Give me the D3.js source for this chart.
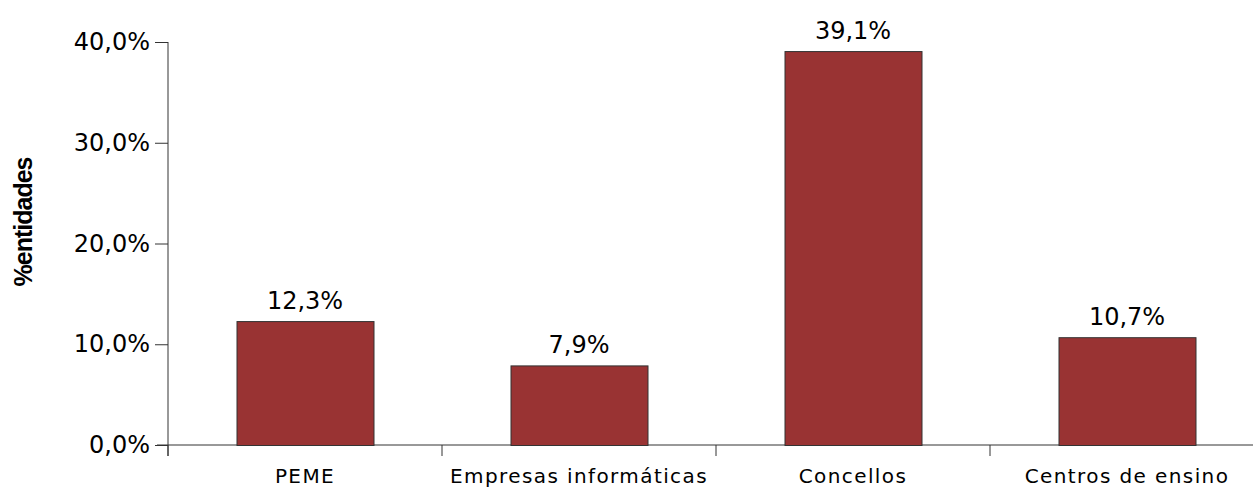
<!DOCTYPE html>
<meta charset="utf-8">
<style>
body { margin: 0; background: #fff; }
text { font-family: "DejaVu Sans", sans-serif; fill: #000; }
.bar { fill: #993333; stroke: #333; stroke-width: 1px; }
.axis path, .axis line { stroke: #333; }
</style>
<svg width="1253" height="487"></svg>
<script src="https://d3js.org/d3.v7.min.js"></script>
<script>
var categories = ["PEME", "Empresas informáticas", "Concellos", "Centros de ensino"];
var values = [12.3, 7.9, 39.1, 10.7];
var yTicks = [0, 10, 20, 30, 40];

var svg = d3.select("svg"),
    margin = {top: 42, right: 0, bottom: 42, left: 168},
    height = 487 - margin.top - margin.bottom;

var x = d3.scaleBand().domain(categories).range([0, 274 * 4]).paddingInner(0).paddingOuter(0),
    y = d3.scaleLinear().domain([0, 40]).range([height, 0]);

var fmt = function(v) { return v.toFixed(1).replace(".", ",") + "%"; };

var g = svg.append("g").attr("transform", "translate(" + margin.left + "," + margin.top + ")");

// y axis
var yAxis = g.append("g").attr("class", "axis")
    .call(d3.axisLeft(y).tickValues(yTicks).tickSize(13).tickPadding(5).tickFormat(fmt));
yAxis.select(".domain").remove();
yAxis.append("line").attr("x1", 0).attr("x2", 0).attr("y1", 0).attr("y2", height + 11).attr("stroke", "#555");
yAxis.selectAll("text").style("font-size", "24px").style("font-family", "DejaVu Sans");

// x axis
var xg = g.append("g").attr("class", "axis").attr("transform", "translate(0," + height + ")");
xg.append("line").attr("x1", -11).attr("x2", 1253 - margin.left).attr("stroke", "#000");
xg.selectAll(".tk").data(categories).enter().append("line")
    .attr("x1", function(d) { return x(d); }).attr("x2", function(d) { return x(d); })
    .attr("y1", 0).attr("y2", 11).attr("stroke", "#555");
xg.selectAll(".lbl").data(categories).enter().append("text")
    .attr("x", function(d) { return x(d) + x.bandwidth() / 2; })
    .attr("y", 38)
    .attr("text-anchor", "middle")
    .style("font-size", "20px")
    .style("letter-spacing", "1.4px")
    .text(function(d) { return d; });

// bars
var bw = x.bandwidth() / 2;
g.selectAll(".bar").data(values).enter().append("rect")
    .attr("class", "bar")
    .attr("x", function(d, i) { return x(categories[i]) + (x.bandwidth() - bw) / 2 + 0.5; })
    .attr("y", function(d) { return y(d) + 0.5; })
    .attr("width", bw)
    .attr("height", function(d) { return height - y(d); });

g.selectAll(".val").data(values).enter().append("text")
    .attr("x", function(d, i) { return x(categories[i]) + x.bandwidth() / 2; })
    .attr("y", function(d) { return y(d) - 12; })
    .attr("text-anchor", "middle")
    .style("font-size", "24px")
    .text(fmt);

// y title
svg.append("text")
    .attr("transform", "translate(32,222) rotate(-90)")
    .attr("text-anchor", "middle")
    .style("font-family", "Liberation Sans, Arial, sans-serif")
    .style("font-size", "25px")
    .style("font-weight", "bold")
    .style("letter-spacing", "-1px")
    .text("%entidades");
</script>
